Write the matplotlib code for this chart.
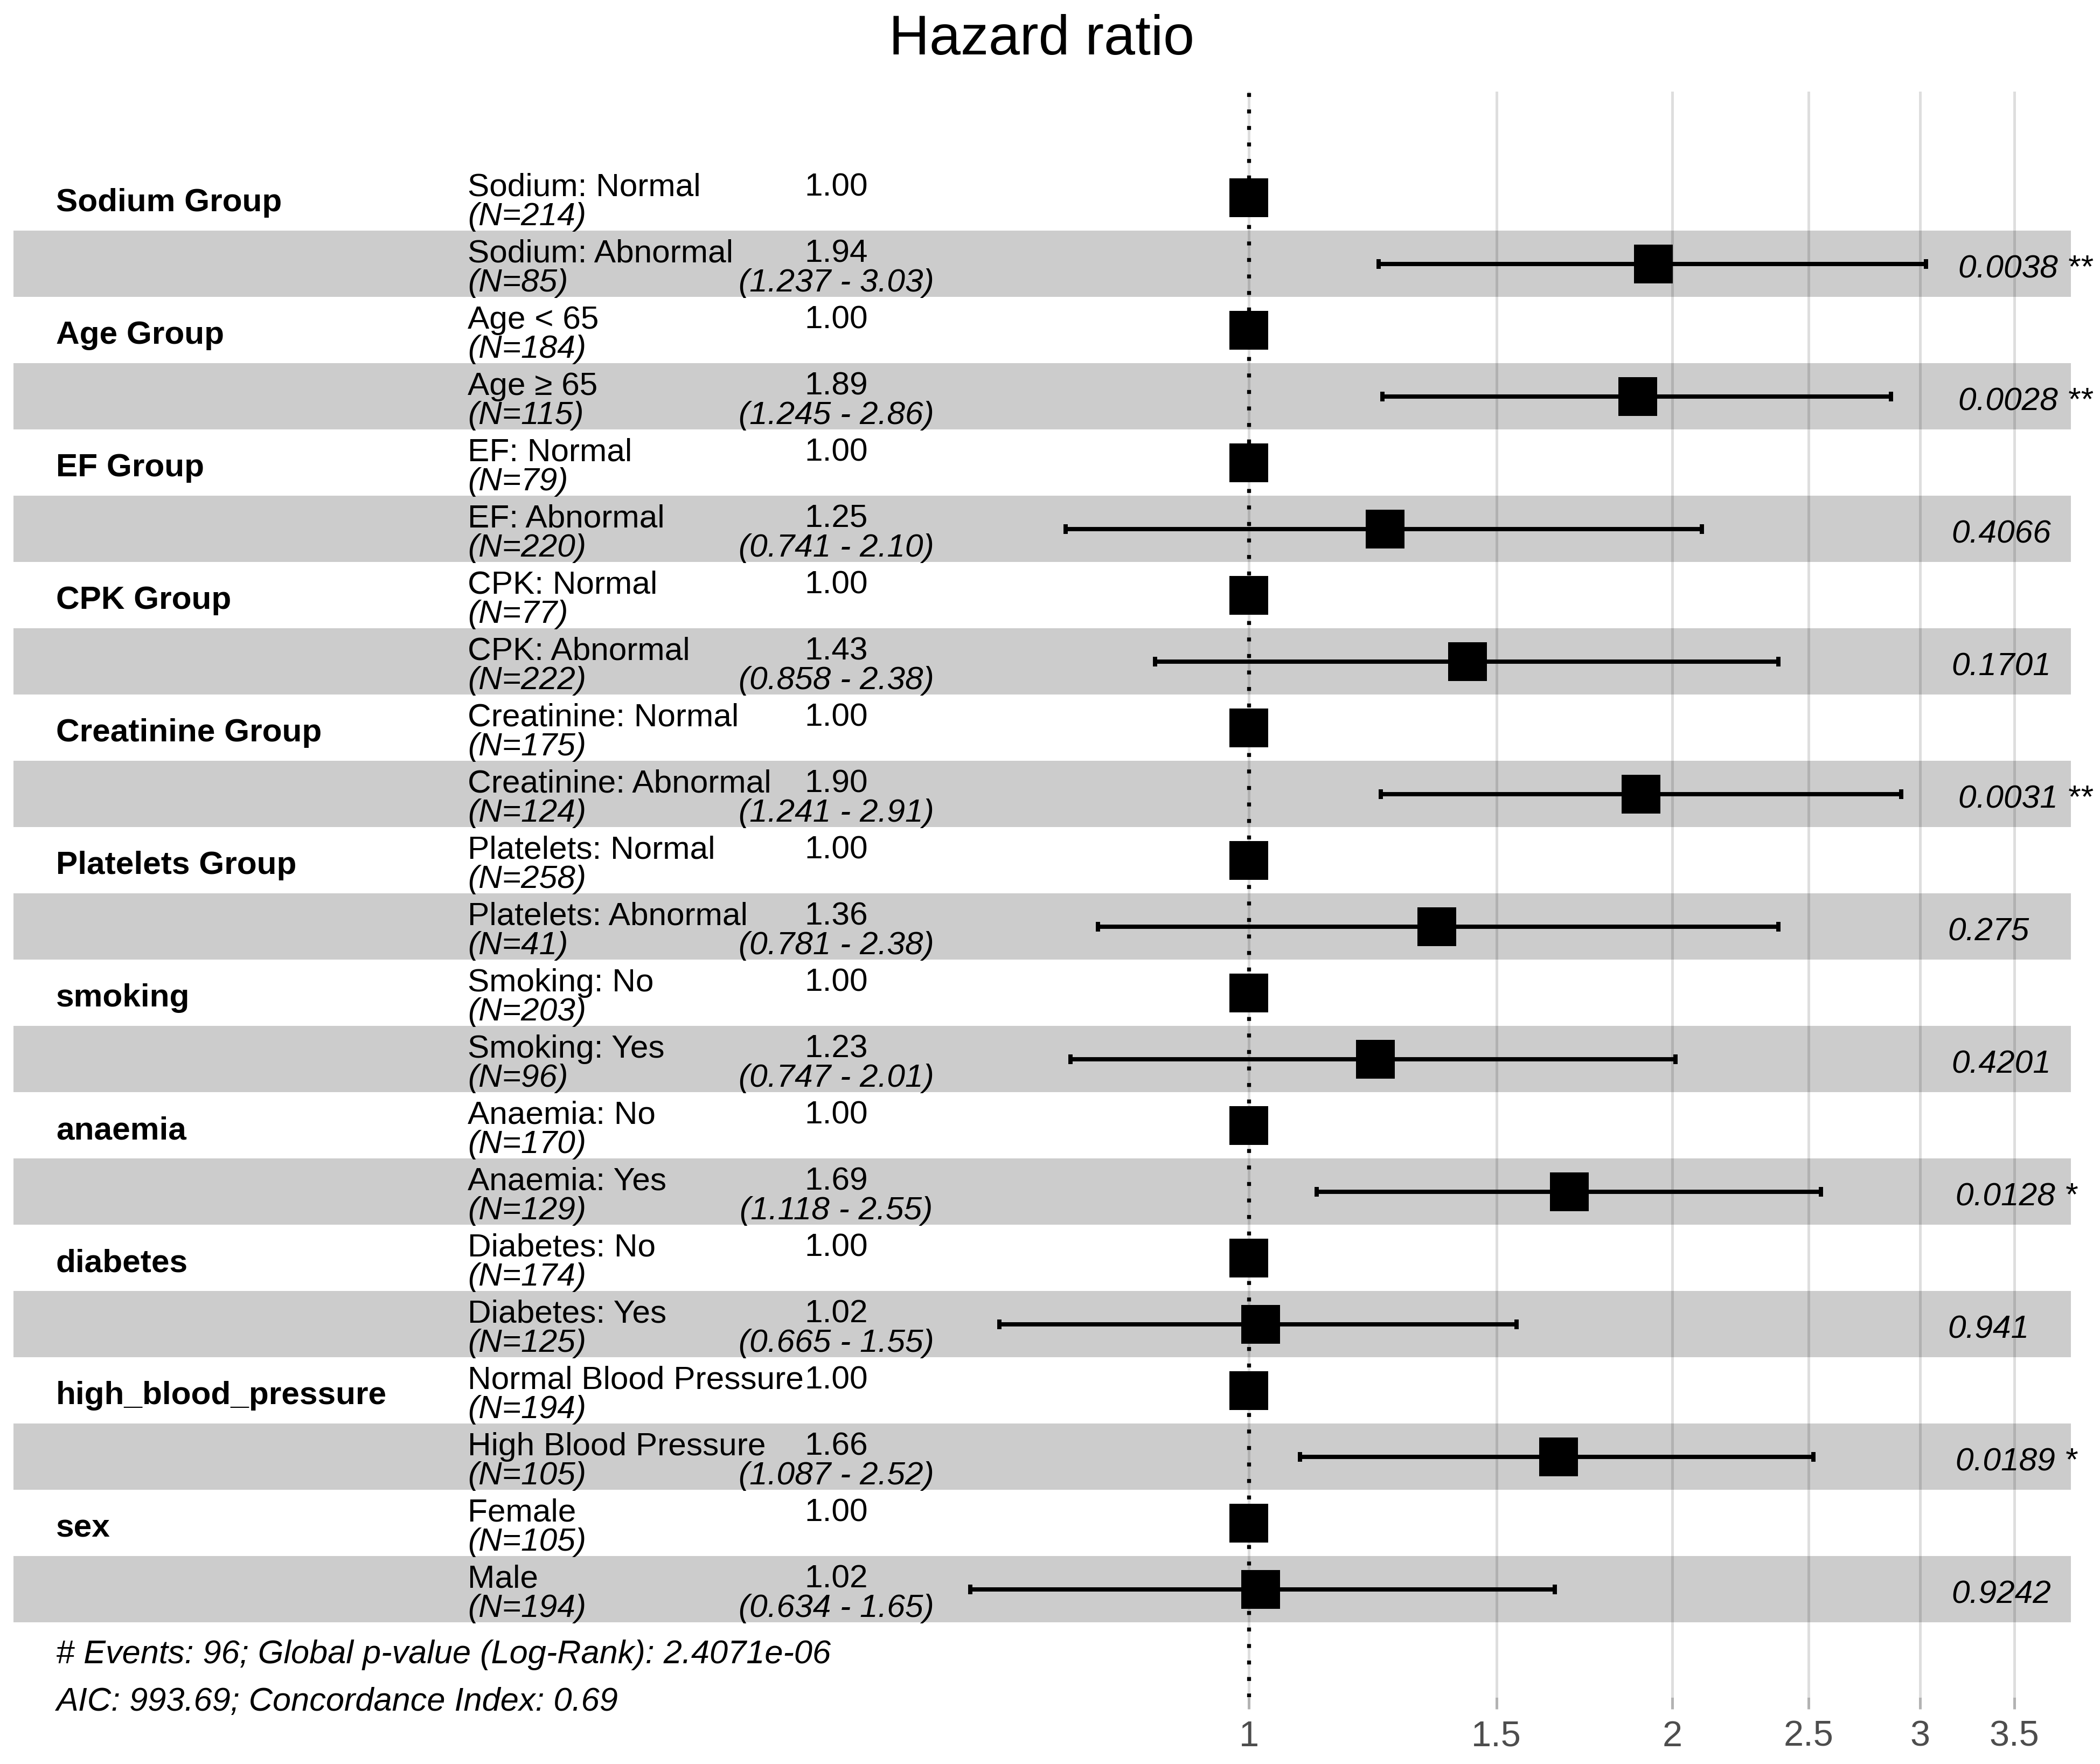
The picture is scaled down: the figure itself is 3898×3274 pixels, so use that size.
import numpy as np
import matplotlib
matplotlib.use("Agg")
import matplotlib.pyplot as plt
import matplotlib.transforms as mtransforms

plt.rcParams['font.family'] = ['Liberation Sans', 'DejaVu Sans']

# datos del modelo de Cox
groups = ["Sodium Group", "Age Group", "EF Group", "CPK Group", "Creatinine Group",
          "Platelets Group", "smoking", "anaemia", "diabetes", "high_blood_pressure", "sex"]
ref_levels = ["Sodium: Normal", "Age < 65", "EF: Normal", "CPK: Normal", "Creatinine: Normal",
              "Platelets: Normal", "Smoking: No", "Anaemia: No", "Diabetes: No",
              "Normal Blood Pressure", "Female"]
alt_levels = ["Sodium: Abnormal", "Age \u2265 65", "EF: Abnormal", "CPK: Abnormal",
              "Creatinine: Abnormal", "Platelets: Abnormal", "Smoking: Yes", "Anaemia: Yes",
              "Diabetes: Yes", "High Blood Pressure", "Male"]
n_ref = [214, 184, 79, 77, 175, 258, 203, 170, 174, 194, 105]
n_alt = [85, 115, 220, 222, 124, 41, 96, 129, 125, 105, 194]
hr = [1.94, 1.89, 1.25, 1.43, 1.90, 1.36, 1.23, 1.69, 1.02, 1.66, 1.02]
ci_low = [1.237, 1.245, 0.741, 0.858, 1.241, 0.781, 0.747, 1.118, 0.665, 1.087, 0.634]
ci_high = [3.03, 2.86, 2.10, 2.38, 2.91, 2.38, 2.01, 2.55, 1.55, 2.52, 1.65]
p_values = [0.0038, 0.0028, 0.4066, 0.1701, 0.0031, 0.275, 0.4201, 0.0128, 0.941, 0.0189, 0.9242]
stars = ["**", "**", "", "", "**", "", "", "*", "", "*", ""]
footer = ["# Events: 96; Global p-value (Log-Rank): 2.4071e-06",
          "AIC: 993.69; Concordance Index: 0.69"]
xticks = [1, 1.5, 2, 2.5, 3, 3.5]

W, H = 3898, 3274
DPI = 300
FS = 14.5

fig = plt.figure(figsize=(W / DPI, H / DPI), dpi=DPI)

# eje: pixeles 170 -> 3150 en vertical, todo el ancho en horizontal
top_px, bot_px = 170, 3150
ax = fig.add_axes([0, 1 - bot_px / H, 1, (bot_px - top_px) / H])

x1_px, k = 2318, 1134.0
ax.set_xscale('log')
ax.set_xlim(np.exp(-x1_px / k), np.exp((W - x1_px) / k))
row0, rowh = 366.5, 123.0
ax.set_ylim((bot_px - row0) / rowh, (top_px - row0) / rowh)

ax.set_xticks(xticks)
ax.set_xticklabels([str(t) for t in xticks])
ax.minorticks_off()
ax.set_yticks([])
for s in ax.spines.values():
    s.set_visible(False)
ax.set_axisbelow(True)
ax.grid(axis='x', which='major', color='#DEDEDE', lw=1.2)
ax.tick_params(axis='x', length=5.3, width=1.2, color='#B3B3B3',
               labelcolor='#4D4D4D', labelsize=16, pad=5)

blend = mtransforms.blended_transform_factory(ax.transAxes, ax.transData)

y_ref = np.arange(len(groups)) * 2
y_alt = y_ref + 1

# bandas grises
for y in y_alt:
    ax.axhspan(y - 0.5, y + 0.5, xmin=25 / W, xmax=3844 / W,
               color='black', alpha=0.2, lw=0, zorder=1)

# linea de referencia
ax.axvline(1, color='black', lw=1.75, linestyle=(0, (1, 3.2)),
           dash_capstyle='butt', zorder=2)

hr_a = np.array(hr)
ax.errorbar(hr_a, y_alt, xerr=[hr_a - np.array(ci_low), np.array(ci_high) - hr_a],
            fmt='none', ecolor='black', elinewidth=1.9, capsize=2.05, capthick=1.9,
            zorder=3)
ax.plot(np.ones(len(groups)), y_ref, 's', ms=17.5, color='black', mew=0, zorder=4)
ax.plot(hr_a, y_alt, 's', ms=17.5, color='black', mew=0, zorder=4)

# textos
x_grp, x_lvl, x_hr, x_p = 104 / W, 868 / W, 1552 / W, 3585 / W
p_texts = []
for i in range(len(groups)):
    yr, ya = y_ref[i], y_alt[i]
    ax.text(x_grp, yr + 0.21, groups[i], transform=blend, fontsize=FS,
            fontweight='bold', va='baseline', ha='left')
    ax.text(x_lvl, yr - 0.024, ref_levels[i], transform=blend, fontsize=FS, va='baseline')
    ax.text(x_lvl, yr + 0.415, "(N=%d)" % n_ref[i], transform=blend, fontsize=FS,
            style='italic', va='baseline')
    ax.text(x_lvl, ya - 0.024, alt_levels[i], transform=blend, fontsize=FS, va='baseline')
    ax.text(x_lvl, ya + 0.415, "(N=%d)" % n_alt[i], transform=blend, fontsize=FS,
            style='italic', va='baseline')
    ax.text(x_hr, yr - 0.024, "1.00", transform=blend, fontsize=FS, ha='center', va='baseline')
    ax.text(x_hr, ya - 0.024, "%.2f" % hr[i], transform=blend, fontsize=FS,
            ha='center', va='baseline')
    ax.text(x_hr, ya + 0.415, "(%.3f - %.2f)" % (ci_low[i], ci_high[i]), transform=blend,
            fontsize=FS, style='italic', ha='center', va='baseline')
    lab = str(p_values[i]) + (" " + stars[i] if stars[i] else "")
    t = ax.text(x_p, ya + 0.21, lab, transform=blend, fontsize=FS, style='italic',
                ha='left', va='baseline')
    p_texts.append(t)

ax.text(x_grp, (3087 - row0) / rowh, footer[0], transform=blend, fontsize=14.7,
        style='italic', va='baseline')
ax.text(x_grp, (3175 - row0) / rowh, footer[1], transform=blend, fontsize=14.7,
        style='italic', va='baseline')

fig.text(1934 / W, 1 - 75 / H, "Hazard ratio", fontsize=25, ha='center', va='center')

# hjust = -0.2 como en ggplot
fig.canvas.draw()
r = fig.canvas.get_renderer()
for t in p_texts:
    w = t.get_window_extent(r).width
    t.set_transform(blend + mtransforms.Affine2D().translate(0.2 * w, 0))

fig.savefig("out.png", dpi=DPI, facecolor='white')
